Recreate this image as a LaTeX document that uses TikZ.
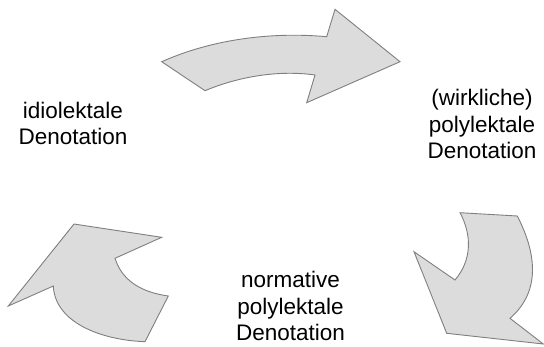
\documentclass[tikz,border=0pt]{standalone}
\usepackage{fontspec}
\setmainfont{Liberation Sans}
\usepackage{xcolor}
\definecolor{arrowfill}{HTML}{DCDCDC}
\definecolor{arrowline}{HTML}{7F7F7F}

\begin{document}
\begin{tikzpicture}[x=1pt,y=-1pt,
        bigarrow/.style={fill=arrowfill,draw=arrowline,line width=0.9pt,line join=miter},
        stage/.style={align=center,inner sep=0pt,font=\fontsize{22.5}{26.7}\selectfont}]
            \useasboundingbox (0,0) rectangle (544,346);
            % arrow on top, left to right
            \draw[bigarrow] (161.7,61.7) .. controls (215,38) and (275,32) .. (326.7,36.7)
                -- (335,9.3) -- (400,61.7) -- (306.7,102.7) -- (315,75)
                .. controls (280,70) and (240,76) .. (205,90.7) -- cycle;
            % arrow bottom right, turning down
            \draw[bigarrow] (460,212.7) -- (517.3,216) .. controls (540,260) and (537,295) .. (510,318.3)
                -- (543.3,344) -- (446.7,333.3) -- (414,251.7) -- (455,280)
                .. controls (472,260) and (472,235) .. (460,212.7) -- cycle;
            % arrow bottom left, turning up
            \draw[bigarrow] (74,224) -- (161.7,237.3) -- (115,258.3)
                .. controls (122,280) and (140,292) .. (168.3,296) -- (145,341.7)
                .. controls (100,340) and (55,322) .. (53.3,286) -- (8.3,306) -- cycle;
            \node (idio) at (73,101.7) [stage,anchor=north] {idiolektale\\Denotation};
            \node (wirk) at (482,89) [stage,anchor=north] {(wirkliche)\\polylektale\\Denotation};
            \node (norm) at (290.5,271) [stage,anchor=north] {normative\\polylektale\\Denotation};
        \end{tikzpicture}
\end{document}
